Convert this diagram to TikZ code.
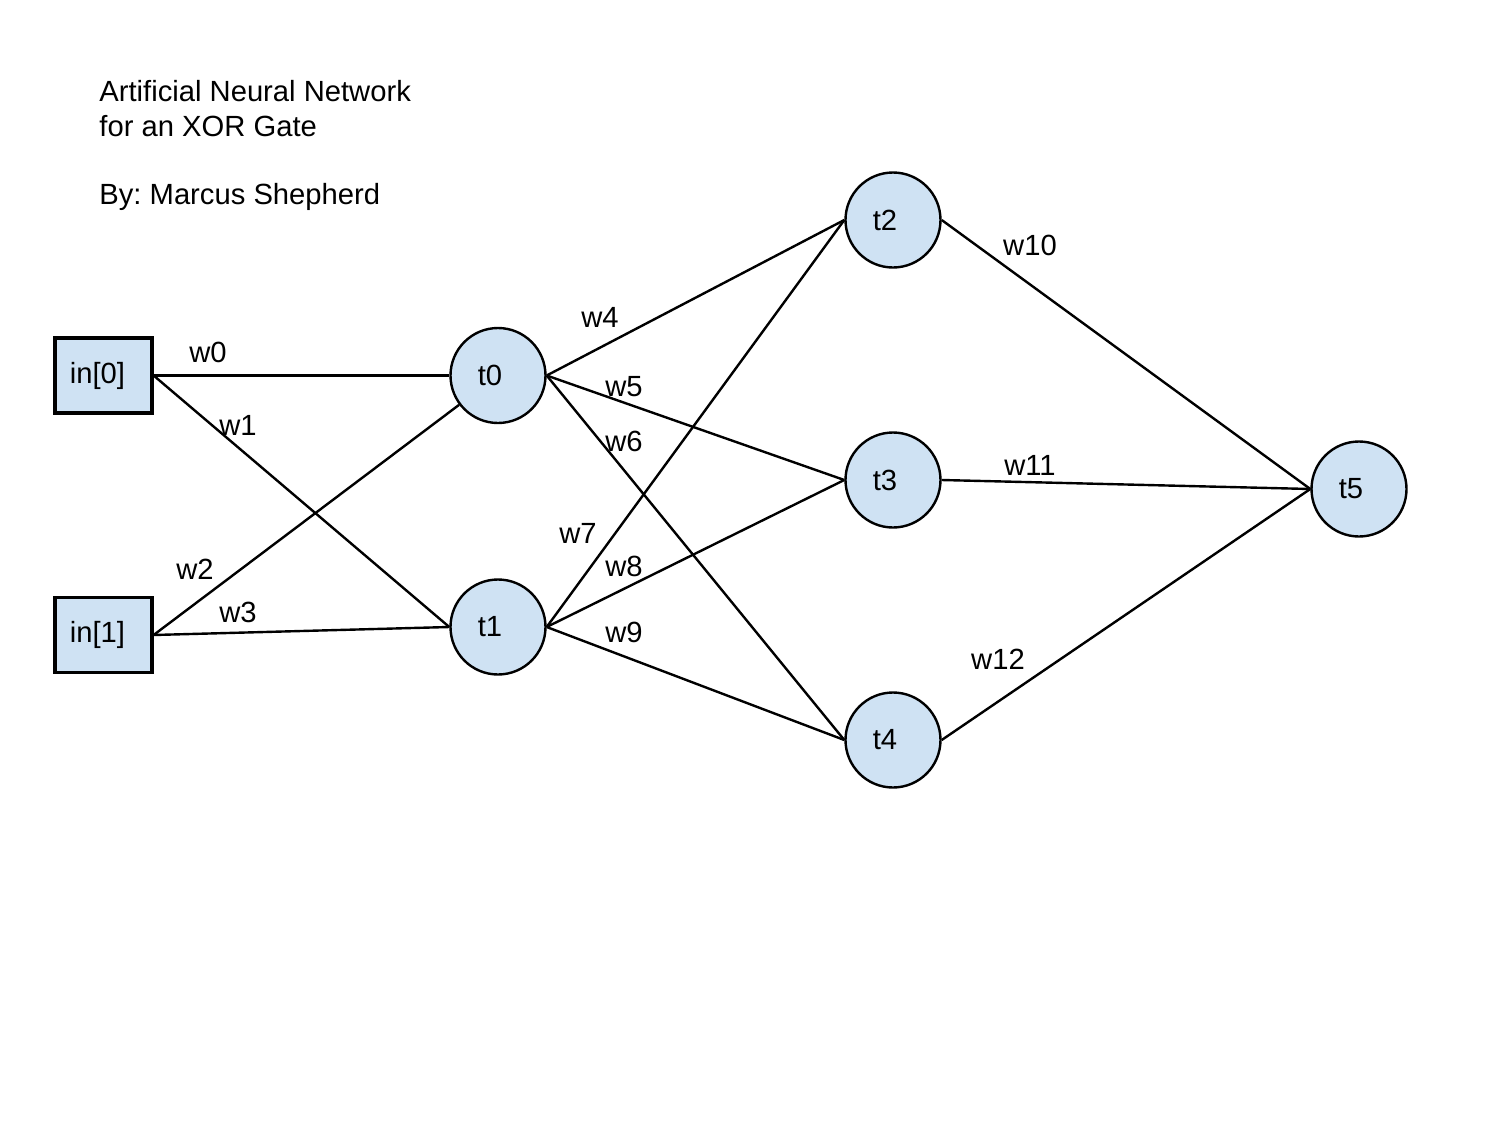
\documentclass[tikz,border=0pt]{standalone}
\usepackage{fontspec}
\setmainfont{Liberation Sans}
\frenchspacing
\definecolor{cellblue}{HTML}{CFE2F3}
\begin{document}
\begin{tikzpicture}[x=0.5pt,y=-0.5pt,
  every node/.style={font=\fontsize{14.6}{17.5}\selectfont},
  inbox/.style={draw=black, line width=1.6pt, fill=cellblue, rectangle,
    minimum width=48.5pt, minimum height=37.5pt, inner sep=0pt},
  neuron/.style={draw=black, line width=1.2pt, fill=cellblue, circle,
    minimum size=47.5pt, inner sep=0pt},
  link/.style={draw=black, line width=1.2pt},
  wlabel/.style={inner sep=0pt},
  titletext/.style={anchor=base west, inner sep=0pt}]
  \useasboundingbox (0,0) rectangle (1500,1125);

  % heading
  \node[titletext] (title1) at (99,101) {Artificial Neural Network};
  \node[titletext] (title2) at (99,136) {for an XOR Gate};
  \node[titletext] (author) at (99,204) {By: Marcus Shepherd};

  % input layer
  \node[inbox] (in0) at (103.5,375.5) {in[0]\kern 6pt};
  \node[inbox] (in1) at (103.5,635) {in[1]\kern 6pt};

  % hidden layer 1
  \node[neuron] (t0) at (498,375.5) {t0\kern 8pt};
  \node[neuron] (t1) at (498,627) {t1\kern 8pt};

  % hidden layer 2
  \node[neuron] (t2) at (893,220) {t2\kern 8pt};
  \node[neuron] (t3) at (893,480) {t3\kern 8pt};
  \node[neuron] (t4) at (893,740) {t4\kern 8pt};

  % output
  \node[neuron] (t5) at (1359,489) {t5\kern 8pt};

  % connections
  \draw[link] (in0.east) -- (t0.west);
  \draw[link] (in0.east) -- (t1.west);
  \draw[link] (in1.east) -- (t0);
  \draw[link] (in1.east) -- (t1.west);
  \foreach \a in {t0,t1}
    \foreach \b in {t2,t3,t4}
      \draw[link] (\a.east) -- (\b.west);
  \foreach \a in {t2,t3,t4}
    \draw[link] (\a.east) -- (t5.west);

  % weights
  \node[wlabel] (w0) at (208,352) {w0};
  \node[wlabel] (w1) at (238,425) {w1};
  \node[wlabel] (w2) at (195,569) {w2};
  \node[wlabel] (w3) at (238,612) {w3};
  \node[wlabel] (w4) at (600,317) {w4};
  \node[wlabel] (w5) at (624,387) {w5};
  \node[wlabel] (w6) at (624,441) {w6};
  \node[wlabel] (w7) at (578,533) {w7};
  \node[wlabel] (w8) at (624,566) {w8};
  \node[wlabel] (w9) at (624,632) {w9};
  \node[wlabel] (w10) at (1030,245) {w10};
  \node[wlabel] (w11) at (1030,465) {w11};
  \node[wlabel] (w12) at (998,659) {w12};
\end{tikzpicture}
\end{document}
